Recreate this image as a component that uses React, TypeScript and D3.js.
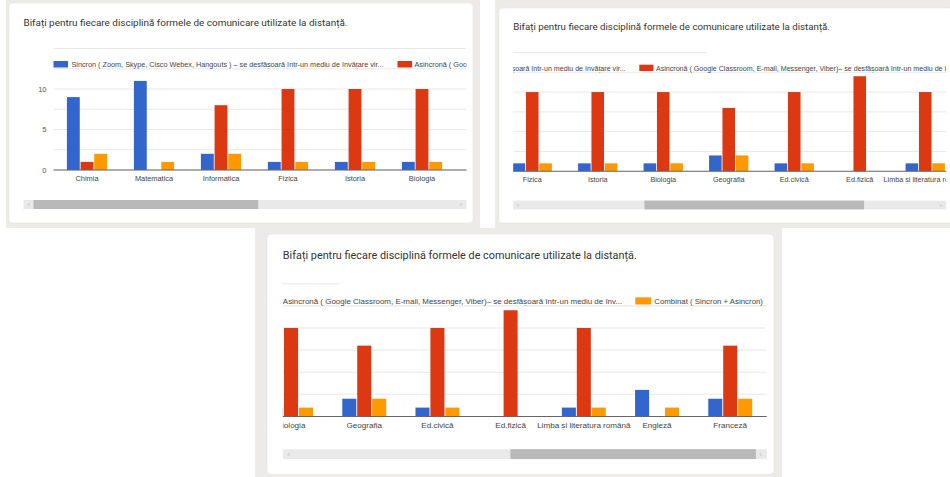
import React from "react";
import * as d3 from "d3";

// ---------- data ----------
const categories = [
  "Chimia",
  "Matematica",
  "Informatica",
  "Fizica",
  "Istoria",
  "Biologia",
  "Geografia",
  "Ed.civică",
  "Ed.fizică",
  "Limba și literatura română",
  "Engleză",
  "Franceză",
];
const sincron = [9, 11, 2, 1, 1, 1, 2, 1, 0, 1, 3, 2];
const asincron = [1, 0, 8, 10, 10, 10, 8, 10, 12, 10, 0, 8];
const combinat = [2, 1, 2, 1, 1, 1, 2, 1, 0, 1, 1, 2];
const seriesNames = [
  "Sincron ( Zoom, Skype, Cisco Webex, Hangouts ) – se desfășoară într-un mediu de învățare vir...",
  "Asincronă ( Google Classroom, E-mail, Messenger, Viber)– se desfășoară într-un mediu de înv...",
  "Combinat ( Sincron + Asincron)",
];
const yTickLabels = [0, 5, 10];
const gridValues = [0, 2.5, 5, 7.5, 10, 12.5];
const title = "Bifați pentru fiecare disciplină formele de comunicare utilizate la distanță.";

const colors = ["#3366cc", "#dc3912", "#ff9900"];
const seriesData = [sincron, asincron, combinat];

// ---------- layout (base units) ----------
const CARD_W = 464;
const CARD_H = 220;
const PAD_X = 14.5;
const WIN_W = 443;
const PLOT_LEFT = 30;
const PLOT_W = 804;
const TOTAL_W = PLOT_LEFT + PLOT_W;
const BASE_Y = 167;
const PPU = 8.1;

const panels = [
  { gray: { x: 6, y: 0, w: 474, h: 228 }, card: { x: 9, y: 3 }, k: 1, scroll: 0 },
  { gray: { x: 495, y: 0, w: 455, h: 228 }, card: { x: 499, y: 8 }, k: 0.9776, scroll: 245 },
  { gray: { x: 255, y: 228, w: 527, h: 249 }, card: { x: 267, y: 234 }, k: 1.0925, scroll: 391 },
];

const FONT = "Arial, 'Liberation Sans', sans-serif";

const x0 = d3
  .scaleBand<string>()
  .domain(categories)
  .range([PLOT_LEFT, PLOT_LEFT + PLOT_W])
  .paddingInner(0.4)
  .paddingOuter(0.2);
const x1 = d3
  .scaleBand<number>()
  .domain([0, 1, 2])
  .range([0, x0.bandwidth()])
  .paddingInner(0.06);
const y = d3.scaleLinear().domain([0, 15]).range([BASE_Y, BASE_Y - 15 * PPU]);

const legendItems = [
  { rx: PLOT_LEFT, tx: PLOT_LEFT + 18, tw: 312 },
  { rx: PLOT_LEFT + 344, tx: PLOT_LEFT + 361, tw: 310.5 },
  { rx: PLOT_LEFT + 683.6, tx: PLOT_LEFT + 701, tw: 99.5 },
];

// is the span [a, b] (chart coords) at least partly inside the scrolled window?
const inWindow = (a: number, b: number, scroll: number) => b > scroll && a < scroll + WIN_W;

function Panel({ p, idx }: { p: (typeof panels)[number]; idx: number }) {
  const clipId = `win-${idx}`;
  const trackX = PAD_X;
  const btn = 10;
  const troughLen = WIN_W - 2 * btn;
  const thumbW = (WIN_W / TOTAL_W) * troughLen;
  const thumbX = trackX + btn + (p.scroll / TOTAL_W) * troughLen;
  return (
    <g>
      <rect x={p.gray.x} y={p.gray.y} width={p.gray.w} height={p.gray.h} fill="#ecebe8" />
      <g transform={`translate(${p.card.x},${p.card.y}) scale(${p.k})`}>
        <defs>
          <clipPath id={clipId}>
            <rect x={PAD_X} y={35} width={WIN_W} height={155} />
          </clipPath>
        </defs>
        <rect x={0} y={0} width={CARD_W} height={CARD_H} rx={4} fill="#ffffff" stroke="#e2e2df" strokeWidth={0.5} />
        <text
          x={PAD_X}
          y={23}
          fontFamily="Roboto, Arial, sans-serif"
          fontSize={9.4}
          fill="#333"
          textLength={324}
          lengthAdjust="spacingAndGlyphs"
        >
          {title}
        </text>
        <g clipPath={`url(#${clipId})`}>
          <g transform={`translate(${PAD_X - p.scroll},0)`}>
            {gridValues.map((v) => (
              <line key={v} x1={PLOT_LEFT} x2={PLOT_LEFT + PLOT_W} y1={y(v)} y2={y(v)} stroke="#e8e8e8" strokeWidth={1} />
            ))}
            <line x1={PLOT_LEFT} x2={WIN_W} y1={y(15)} y2={y(15)} stroke="#e8e8e8" strokeWidth={1} />
            {inWindow(10, 24, p.scroll) &&
              yTickLabels.map((v) => (
                <text key={v} x={23} y={y(v) + 2.6} textAnchor="end" fontFamily={FONT} fontSize={7.5} fill="#555">
                  {v}
                </text>
              ))}
            {legendItems.map((l, i) => (
              <g key={i}>
                {inWindow(l.rx, l.rx + 14.5, p.scroll) && (
                  <rect x={l.rx} y={58} width={14.5} height={6.5} fill={colors[i]} />
                )}
                {inWindow(l.tx, l.tx + l.tw, p.scroll) && (
                  <text
                    x={l.tx}
                    y={64.3}
                    fontFamily={FONT}
                    fontSize={7.3}
                    fill="#444"
                    textLength={l.tw}
                    lengthAdjust="spacingAndGlyphs"
                  >
                    {seriesNames[i]}
                  </text>
                )}
              </g>
            ))}
            {categories.map((c, ci) => (
              <g key={c} transform={`translate(${x0(c)},0)`}>
                {seriesData.map((s, si) =>
                  s[ci] > 0 ? (
                    <rect
                      key={si}
                      x={x1(si)}
                      y={y(s[ci])}
                      width={x1.bandwidth()}
                      height={y(0) - y(s[ci])}
                      fill={colors[si]}
                    />
                  ) : null
                )}
              </g>
            ))}
            <line x1={PLOT_LEFT} x2={PLOT_LEFT + PLOT_W} y1={y(0)} y2={y(0)} stroke="#666" strokeWidth={1} />
            {categories.map((c) => {
              const cx = (x0(c) as number) + x0.bandwidth() / 2;
              const hw = c.length * 1.9;
              if (!inWindow(cx - hw, cx + hw, p.scroll)) return null;
              return (
                <text key={c} x={cx} y={177.8} textAnchor="middle" fontFamily={FONT} fontSize={7.4} fill="#444">
                  {c}
                </text>
              );
            })}
          </g>
        </g>
        {/* scrollbar */}
        <rect x={trackX} y={197} width={WIN_W} height={9} fill="#e9e9e9" />
        <rect x={thumbX} y={197} width={thumbW} height={9} fill="#b9b9b9" />
        <text x={trackX + 4} y={204.2} fontFamily={FONT} fontSize={7} fill="#bdbdbd">
          ‹
        </text>
        <text x={trackX + WIN_W - 7} y={204.2} fontFamily={FONT} fontSize={7} fill="#bdbdbd">
          ›
        </text>
      </g>
    </g>
  );
}

export default function App() {
  return (
    <svg
      width={950}
      height={477}
      style={{ position: "absolute", left: 0, top: 0, display: "block", background: "#ffffff" }}
    >
      {panels.map((p, i) => (
        <Panel key={i} p={p} idx={i} />
      ))}
    </svg>
  );
}
